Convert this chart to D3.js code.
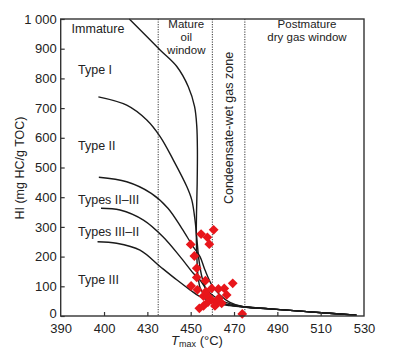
<!DOCTYPE html>
<html><head><meta charset="utf-8">
<script src="https://cdn.jsdelivr.net/npm/d3@7"></script>
<style>body{margin:0;background:#fff}svg{display:block}text{font-family:"Liberation Sans",Arial,sans-serif;fill:#222}</style>
</head><body><svg id="c" width="393" height="356"></svg>
<script>
const xTicks = [390, 400, 430, 450, 470, 490, 510, 530];
const yTicks = [0, 100, 200, 300, 400, 500, 600, 700, 800, 900, 1000];
const zoneLines = [435, 460, 475];
const tail = [[474.3,31],[486.5,24],[505,14],[526.5,3]];
const typeI = [[417.5,1000],[436,895],[443.6,840],[448.9,772],[451.8,705],[452.8,640],[453.1,560],[453.0,450],[452.7,350],[452.6,270],[452.9,190],[453.4,135],[454.4,94],[457.1,62],[461.3,45],[468,35]];
const typeII = [[398.7,738],[415.7,710],[429.6,660],[435.9,604],[442.0,525],[448.2,436],[450.5,391],[452.0,323],[452.9,256],[453.8,189],[455.3,128],[457.6,81],[460.8,54],[465.8,40]];
const typeII_III = [[398.8,467],[415.7,452],[431.8,413],[439.5,363],[445.9,295],[451.2,233],[454.3,200],[456.6,155],[459.8,104],[463.5,71],[468.1,46]];
const typeIII_II = [[399.3,363],[411.1,357],[427.3,323],[437.2,267],[445.1,200],[451.2,144],[454.3,121],[457.5,88],[461.2,64],[465.8,47]];
const typeIII = [[398.5,250],[408.7,245],[424.9,222],[436.0,166],[443.7,121],[449.7,88],[454.3,65],[461.2,47],[468.1,37]];
const samples = [[454.8,276],[460.6,290],[457.7,265],[458.6,242],[450.0,241],[451.7,202],[452.8,161],[452.8,130],[456.8,119],[450.2,101],[453.1,88],[459.7,93],[462.8,91],[465.5,93],[469.4,110],[466.6,71],[455.9,67],[457.9,67],[459.7,54],[462.3,50],[464.3,43],[455.9,34],[454.0,26],[461.2,34],[473.8,7],[458,47],[463,60],[457,82]];
const typeLabels = [["Type I",830],["Type II",575],["Types II\u2013III",395],["Types III\u2013II",285],["Type III",125]];

const svg = d3.select("#c");
const L = 60.7, R = 364, T = 19, B = 316;
const x = d3.scaleLinear().domain(xTicks).range(xTicks.map((d,i)=>L + i*(R-L)/(xTicks.length-1)));
const y = d3.scaleLinear().domain([0,1000]).range([B,T]);

svg.selectAll(".zl").data(zoneLines).join("line")
  .attr("x1",d=>x(d)).attr("x2",d=>x(d)).attr("y1",T).attr("y2",B)
  .attr("stroke","#333").attr("stroke-width",1).attr("stroke-dasharray","1.2,1.3");

const line = d3.line().x(d=>x(d[0])).y(d=>y(d[1])).curve(d3.curveCatmullRom.alpha(0.5));
[typeI, typeII, typeII_III, typeIII_II, typeIII].forEach(c=>{
  svg.append("path").attr("d", line(c.concat(tail))).attr("fill","none").attr("stroke","#1a1a1a").attr("stroke-width",1.4);
});

svg.selectAll(".pt").data(samples).join("path")
  .attr("d", d3.symbol().type(d3.symbolSquare).size(48))
  .attr("transform", d=>`translate(${x(d[0])},${y(d[1])}) rotate(45)`)
  .attr("fill","#e8161b");

svg.append("rect").attr("x",L).attr("y",T).attr("width",R-L).attr("height",B-T)
  .attr("fill","none").attr("stroke","#333").attr("stroke-width",1.4);

const xa = svg.append("g").attr("transform",`translate(0,${B})`)
  .call(d3.axisBottom(x).tickValues(xTicks).tickSize(-4).tickPadding(8).tickFormat(d3.format("d")));
const ya = svg.append("g").attr("transform",`translate(${L},0)`)
  .call(d3.axisLeft(y).tickValues(yTicks).tickSize(-4).tickPadding(4).tickFormat(d=>d===1000?"1 000":d));
[xa,ya].forEach(a=>{
  a.select(".domain").remove();
  a.selectAll(".tick line").attr("stroke","#333").attr("stroke-width",1.2);
  a.selectAll("text").attr("font-size",13).attr("font-family","Liberation Sans, Arial").style("fill","#222");
});
xa.selectAll(".tick").filter(d=>d===390||d===530).select("line").remove();
ya.selectAll(".tick").filter(d=>d===0).select("text").attr("dy","0.1em");

function txt(t,xx,yy,anchor,fs){return svg.append("text").attr("x",xx).attr("y",yy).attr("text-anchor",anchor||"middle").attr("font-size",fs||12.5).text(t);}
txt("Immature",98,33);
const mx = (x(435)+x(460))/2 + 1;
txt("Mature",mx,28,"middle",11.5); txt("oil",mx,41,"middle",11.5); txt("window",mx,54,"middle",11.5);
txt("Postmature",307,28,"middle",11.5); txt("dry gas window",307,41,"middle",11.5);
svg.append("text").attr("transform",`translate(${(x(460)+x(475))/2+4},128) rotate(-90)`)
  .attr("text-anchor","middle").attr("font-size",12.5).text("Condeensate-wet gas zone");

typeLabels.forEach(d=>txt(d[0],78,y(d[1])+5,"start"));

svg.append("text").attr("transform","translate(24,168) rotate(-90)").attr("text-anchor","middle")
  .attr("font-size",12.5).text("HI (mg HC/g TOC)");
const xt = svg.append("text").attr("x",197).attr("y",345).attr("text-anchor","middle").attr("font-size",13);
xt.append("tspan").attr("font-style","italic").text("T");
xt.append("tspan").attr("font-size",9).attr("dy",2).text("max");
xt.append("tspan").attr("dy",-2).text(" (\u00B0C)");
</script></body></html>
